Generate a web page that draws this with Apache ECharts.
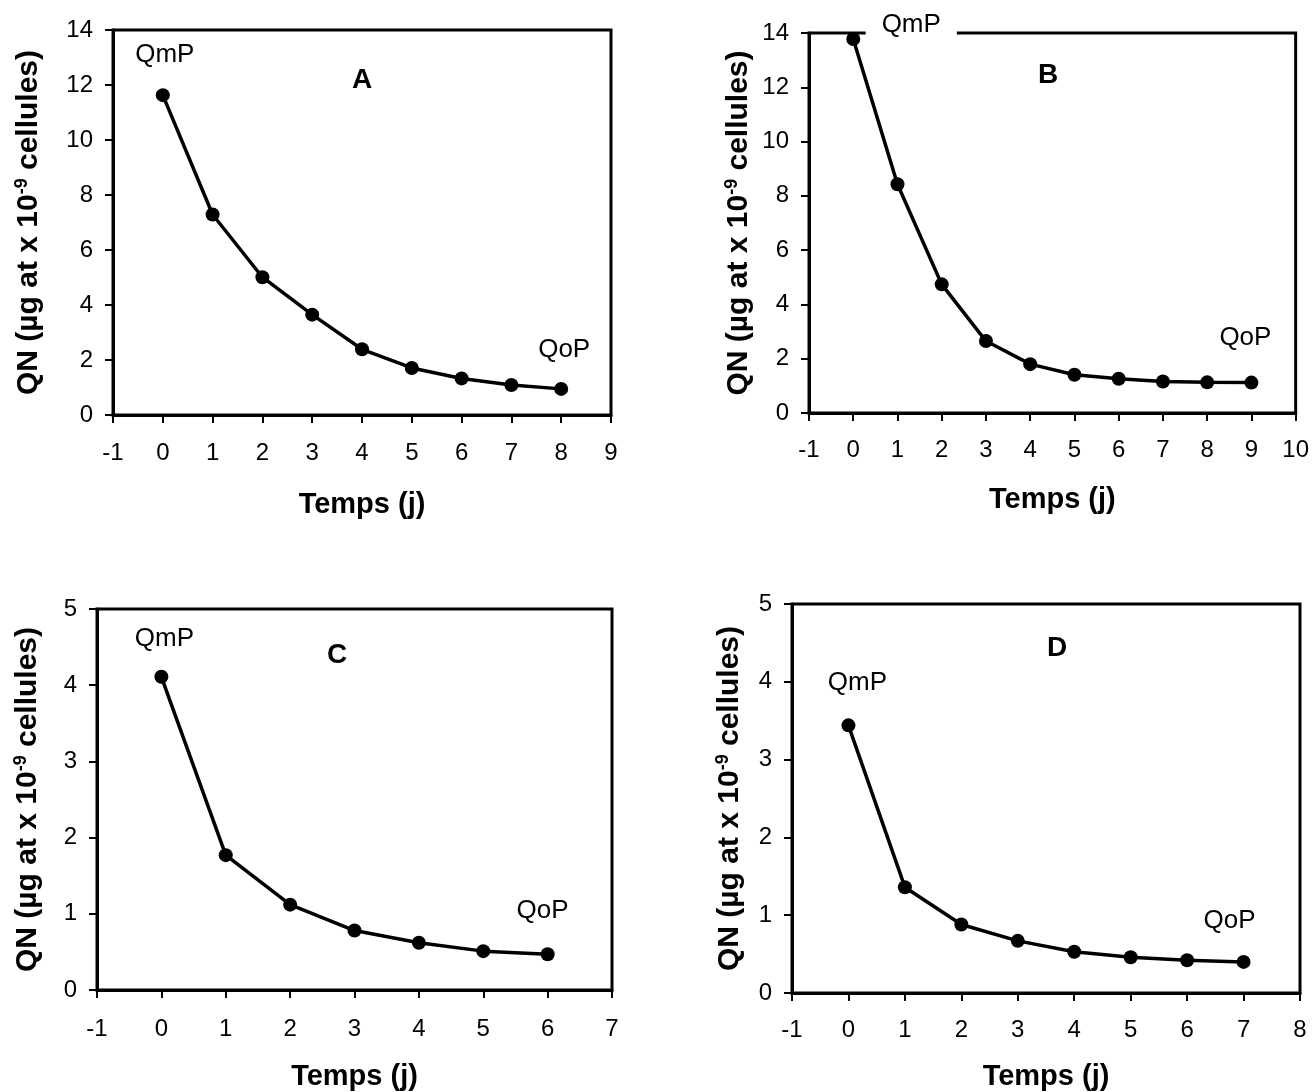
<!DOCTYPE html>
<html>
<head>
<meta charset="utf-8">
<script src="https://cdn.jsdelivr.net/npm/echarts@6/dist/echarts.min.js"></script>
<style>
html,body{margin:0;padding:0;background:#fff;}
#chart{width:1312px;height:1092px;}
</style>
</head>
<body>
<div id="chart"></div>
<script>
// ---- data ----
const panelNames = ['A', 'B', 'C', 'D'];
const daysA = [0, 1, 2, 3, 4, 5, 6, 7, 8];
const qnA = [11.63, 7.29, 5.01, 3.65, 2.39, 1.71, 1.33, 1.09, 0.95];
const daysB = [0, 1, 2, 3, 4, 5, 6, 7, 8, 9];
const qnB = [13.78, 8.43, 4.74, 2.65, 1.80, 1.41, 1.26, 1.16, 1.13, 1.12];
const daysC = [0, 1, 2, 3, 4, 5, 6];
const qnC = [4.11, 1.77, 1.12, 0.78, 0.62, 0.51, 0.47];
const daysD = [0, 1, 2, 3, 4, 5, 6, 7];
const qnD = [3.44, 1.36, 0.88, 0.67, 0.53, 0.46, 0.42, 0.40];
const xRanges = [[-1, 9], [-1, 10], [-1, 7], [-1, 8]];
const yRanges = [[0, 14, 2], [0, 14, 2], [0, 5, 1], [0, 5, 1]];
const startLabel = 'QmP';
const endLabel = 'QoP';
const xTitle = 'Temps (j)';
const yTitle = 'QN (µg at x 10{sup|-9} cellules)';

// ---- layout / style ----
const FONT = 'Arial, "Liberation Sans", sans-serif';
const grids = [
  {left: 113, top: 30, width: 498, height: 385},
  {left: 809, top: 33, width: 489, height: 380},
  {left: 97, top: 609, width: 515, height: 381},
  {left: 792, top: 604, width: 508, height: 389}
];
const xNameGaps = [75, 72, 72, 69];
const xLabelMargins = [26, 25, 27, 25];
const yNameGaps = [68, 54, 53, 46];
const startOffsets = [[2, -40], [58, -14], [3, -38], [9, -43]];
const endOffsets = [[3, -39], [-6, -45], [-5, -43], [-14, -41]];
const letterPos = [[362, 80], [1048, 75], [337, 655], [1057, 648]];
const datasets = [[daysA, qnA], [daysB, qnB], [daysC, qnC], [daysD, qnD]];

const option = {
  backgroundColor: '#fff',
  animation: false,
  grid: grids.map(g => Object.assign({show: true, borderColor: '#000', borderWidth: 3, backgroundColor: 'transparent'}, g)),
  xAxis: grids.map((g, i) => ({
    type: 'value', gridIndex: i,
    min: xRanges[i][0], max: xRanges[i][1], interval: 1,
    name: xTitle, nameLocation: 'middle', nameGap: xNameGaps[i],
    nameTextStyle: {fontFamily: FONT, fontWeight: 'bold', fontSize: 29, color: '#000'},
    axisLine: {show: true, onZero: false, lineStyle: {color: '#000', width: 3}},
    axisTick: {show: true, inside: false, length: 8, lineStyle: {color: '#000', width: 2}},
    axisLabel: {fontFamily: FONT, fontSize: 24, color: '#000', margin: xLabelMargins[i]},
    splitLine: {show: false}
  })),
  yAxis: grids.map((g, i) => ({
    type: 'value', gridIndex: i,
    min: yRanges[i][0], max: yRanges[i][1], interval: yRanges[i][2],
    name: yTitle, nameLocation: 'middle', nameGap: yNameGaps[i], nameRotate: 90,
    nameTextStyle: {fontFamily: FONT, fontWeight: 'bold', fontSize: 30, color: '#000',
      rich: {sup: {fontFamily: FONT, fontWeight: 'bold', fontSize: 18, color: '#000', verticalAlign: 'top', padding: [0, 0, 14, 0]}}},
    axisLine: {show: true, onZero: false, lineStyle: {color: '#000', width: 3}},
    axisTick: {show: true, inside: false, length: 8, lineStyle: {color: '#000', width: 2}},
    axisLabel: {fontFamily: FONT, fontSize: 24, color: '#000', margin: 20},
    splitLine: {show: false}
  })),
  series: datasets.map((d, i) => ({
    type: 'line', xAxisIndex: i, yAxisIndex: i,
    symbol: 'circle', symbolSize: 14, showAllSymbol: true,
    lineStyle: {color: '#000', width: 3.5},
    itemStyle: {color: '#000'},
    clip: false,
    z: 3,
    data: d[0].map((x, k) => {
      const item = {value: [x, d[1][k]]};
      const last = d[0].length - 1;
      if (k === 0 || k === last) {
        const off = k === 0 ? startOffsets[i] : endOffsets[i];
        item.label = {
          show: true, position: 'inside', offset: off,
          formatter: k === 0 ? startLabel : endLabel,
          fontFamily: FONT, fontSize: 26, color: '#000',
          backgroundColor: (i === 1 && k === 0) ? '#fff' : 'transparent',
          padding: (i === 1 && k === 0) ? [0, 16] : 0
        };
      }
      return item;
    })
  })),
  graphic: letterPos.map((p, i) => ({
    type: 'text', x: p[0], y: p[1], z: 10,
    style: {text: panelNames[i], fontFamily: FONT, fontWeight: 'bold', fontSize: 28, fill: '#000', align: 'center', verticalAlign: 'middle'}
  }))
};

const chart = echarts.init(document.getElementById('chart'), null, {renderer: 'canvas'});
chart.setOption(option);
</script>
</body>
</html>
